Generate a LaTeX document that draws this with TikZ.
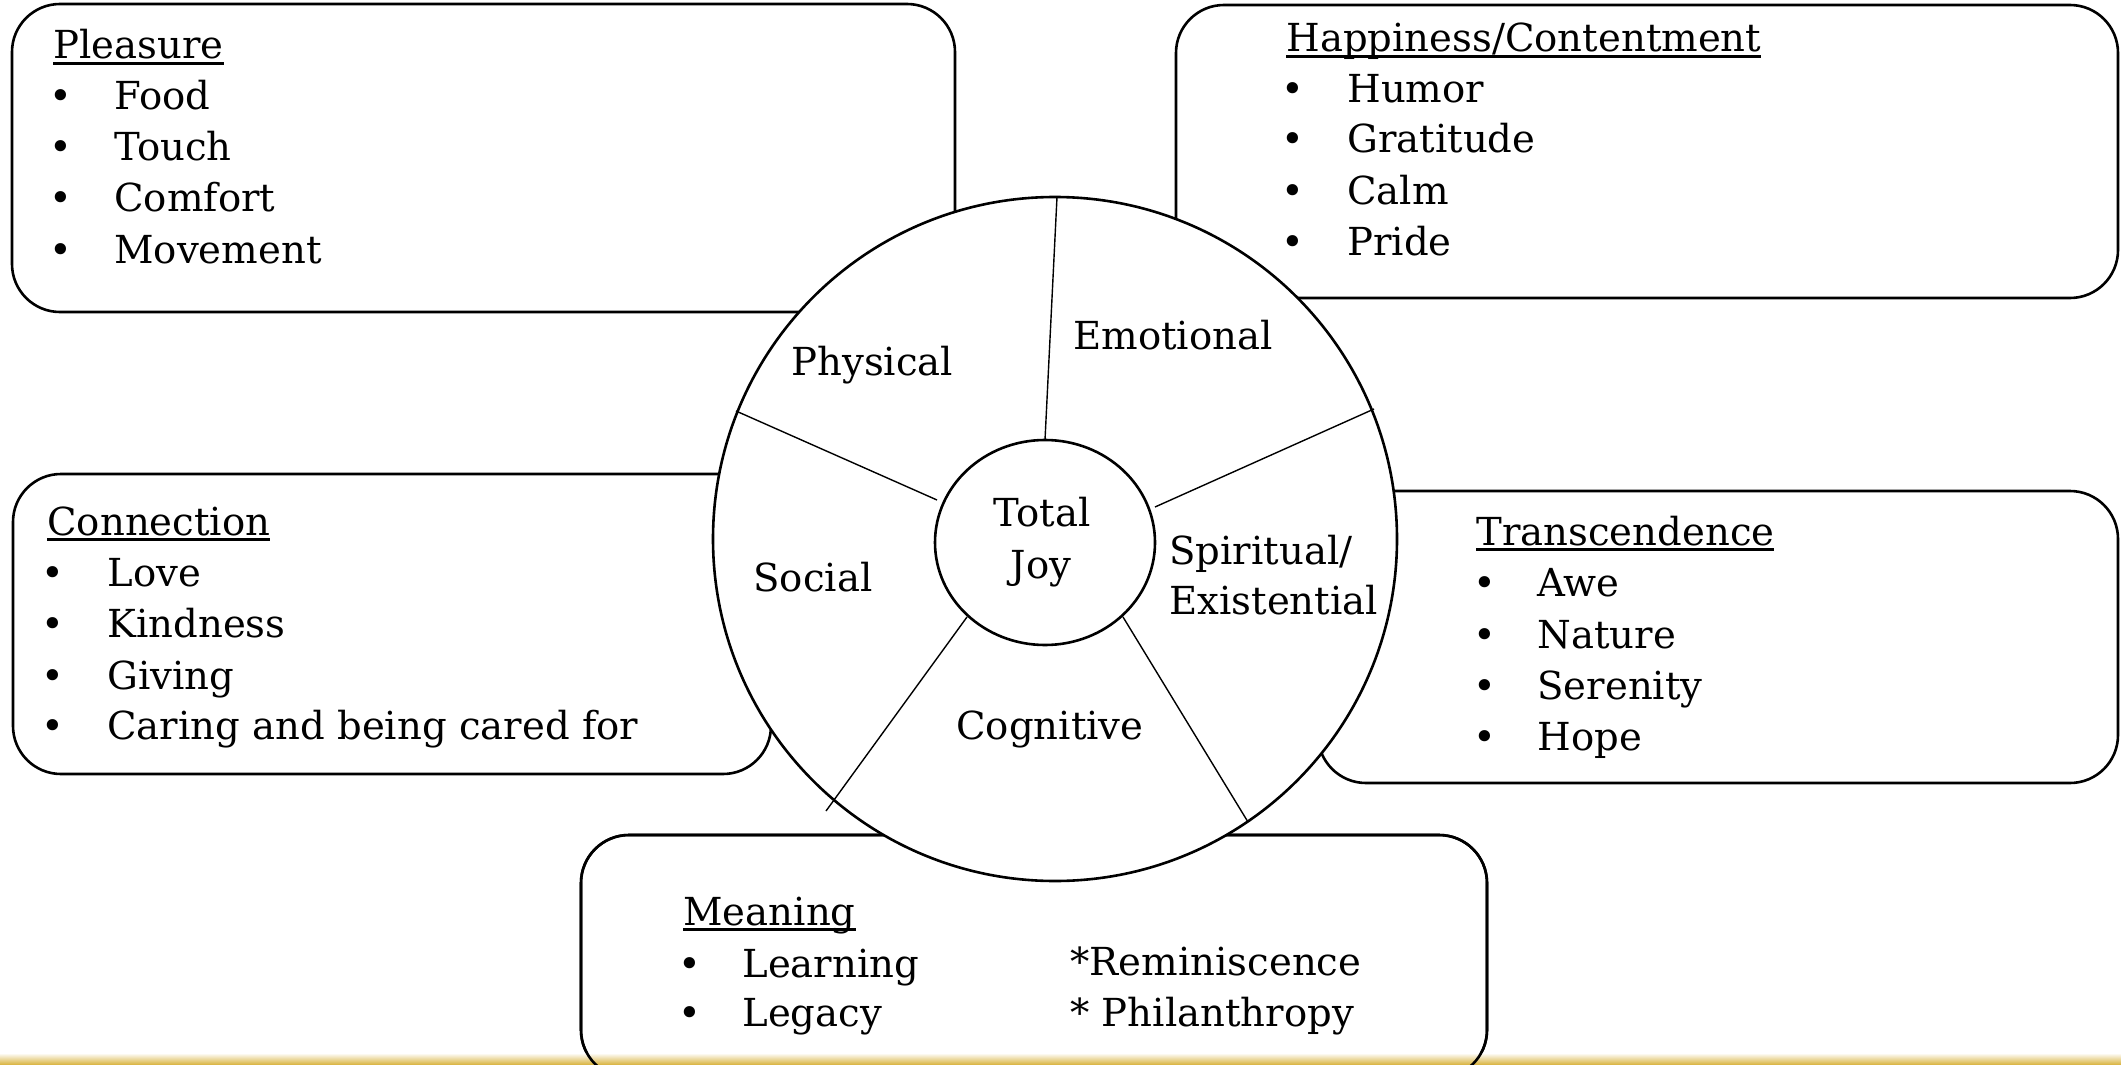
\documentclass[tikz,border=0pt]{standalone}
\usepackage{fontspec}
\setmainfont{DejaVu Serif}
\usetikzlibrary{shapes.geometric}
\definecolor{gold}{RGB}{212,170,40}
\newcommand\ulx[1]{\setbox0\hbox{#1}\rlap{\vrule height -1.6pt depth 2.8pt width \wd0}\box0}
\begin{document}
\begin{tikzpicture}[x=0.5pt,y=-0.5pt,
  box/.style={draw=black,line width=1.3pt,fill=white,rounded corners=24pt},
  spoke/.style={draw=black,line width=0.7pt},
  txt/.style={anchor=base west,inner sep=0pt,font=\fontsize{19.3}{23}\selectfont},
  bul/.style={anchor=base,inner sep=0pt,font=\fontsize{19.3}{23}\selectfont},
]
\useasboundingbox (0,0) rectangle (2121,1065);
\clip (0,0) rectangle (2121,1065);
\fill[white] (0,0) rectangle (2121,1065);
% boxes
\draw[box] (12,4) rectangle (955,312);
\draw[box] (1176,5) rectangle (2118,298);
\draw[box] (13,474) rectangle (771,774);
\draw[box] (1318,491) rectangle (2118,783);
\draw[box] (581,835) rectangle (1487,1078);
% bottom bar
\shade[top color=white,bottom color=gold] (0,1053) rectangle (2121,1066);
\draw[box,fill=none] (581,835) rectangle (1487,1078);
% wheel
\node[draw,circle,line width=1.3pt,fill=white,inner sep=0pt,minimum size=342pt] (outer) at (1055,539) {};
\coordinate (s1a) at (1045,440); \coordinate (s1b) at (1057,197);
\coordinate (s2a) at (937,500);  \coordinate (s2b) at (736,411);
\coordinate (s3a) at (1155,507); \coordinate (s3b) at (1374,409);
\coordinate (s4a) at (967,617);  \coordinate (s4b) at (826,811);
\coordinate (s5a) at (1123,617); \coordinate (s5b) at (1248,822);
\draw[spoke] (s1a) -- (s1b);
\draw[spoke] (s2a) -- (s2b);
\draw[spoke] (s3a) -- (s3b);
\draw[spoke] (s4a) -- (s4b);
\draw[spoke] (s5a) -- (s5b);
\node[draw,ellipse,line width=1.3pt,fill=white,inner sep=0pt,minimum width=110pt,minimum height=102.5pt] (inner) at (1045,542.5) {};
% wheel labels
\node[txt] (physical) at (791,375) {Physical};
\node[txt] (emotional) at (1073,349.5) {Emotional};
\node[bul] (total) at (1042,526) {Total};
\node[bul] (joy) at (1041,578) {Joy};
\node[txt] (social) at (753,591) {Social};
\node[txt] (spiritual) at (1169,564) {Spiritual/};
\node[txt] (existential) at (1169,614) {Existential};
\node[txt] (cognitive) at (956,739) {Cognitive};
% Pleasure
\node[txt] (pleasure) at (53,59) {\ulx{Pleasure}};
\foreach \t/\y [count=\i] in {Food/110,Touch/161,Comfort/212,Movement/263}{
  \node[bul] (pb\i) at (61,\y) {•};
  \node[txt] (pt\i) at (114,\y) {\t};
}
% Happiness
\node[txt] (happiness) at (1286,52) {\ulx{Happiness/Contentment}};
\foreach \t/\y [count=\i] in {Humor/103,Gratitude/153,Calm/205,Pride/256}{
  \node[bul] (hb\i) at (1293,\y) {•};
  \node[txt] (ht\i) at (1347,\y) {\t};
}
% Connection
\node[txt] (connection) at (47,535) {\ulx{Connection}};
\foreach \t/\y [count=\i] in {Love/586,Kindness/637.5,Giving/689,Caring and being cared for/739}{
  \node[bul] (cb\i) at (53,\y) {•};
  \node[txt] (ct\i) at (107,\y) {\t};
}
% Transcendence
\node[txt] (transcendence) at (1476,545) {\ulx{Transcendence}};
\foreach \t/\y [count=\i] in {Awe/596.5,Nature/648,Serenity/699,Hope/750}{
  \node[bul] (tb\i) at (1485,\y) {•};
  \node[txt] (tt\i) at (1537,\y) {\t};
}
% Meaning
\node[txt] (meaning) at (683,925) {\ulx{Meaning}};
\node[bul] (mb1) at (690,977) {•};
\node[txt] (mt1) at (742,977) {Learning};
\node[bul] (mb2) at (690,1026) {•};
\node[txt] (mt2) at (742,1026) {Legacy};
\node[txt] (mr1) at (1070,975) {*Reminiscence};
\node[txt] (mr2) at (1070,1026) {* Philanthropy};
\end{tikzpicture}
\end{document}
